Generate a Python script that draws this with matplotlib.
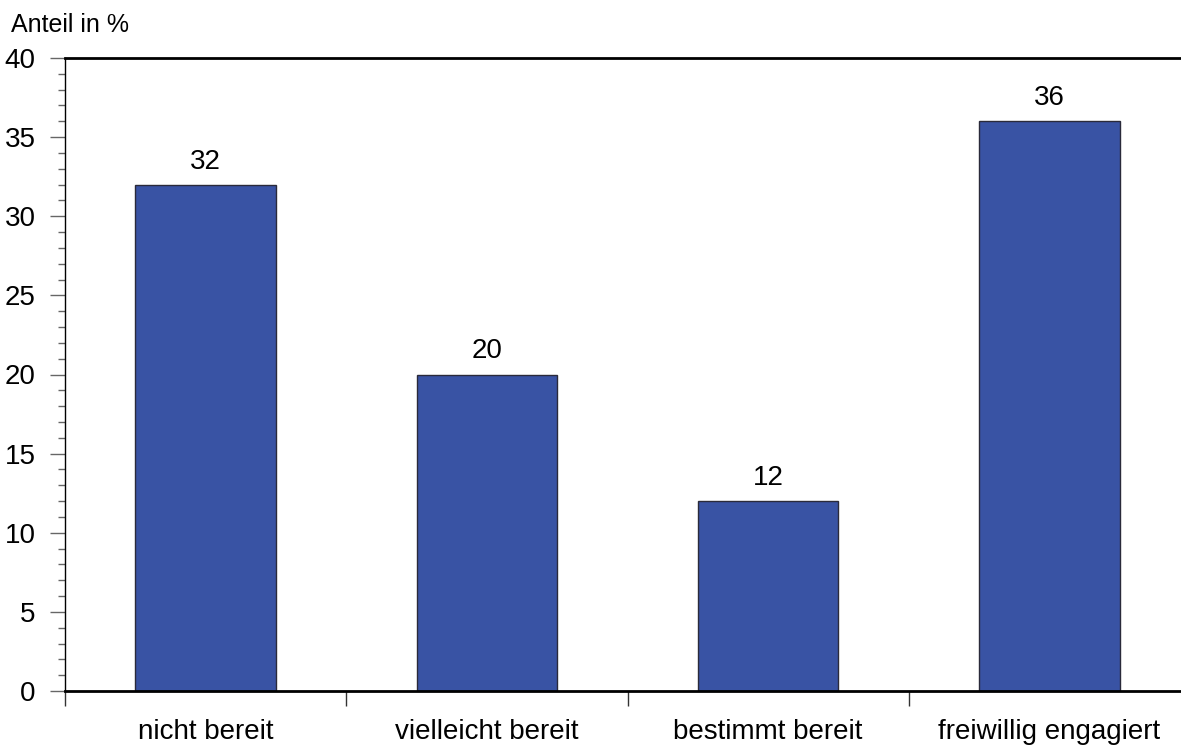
import matplotlib
matplotlib.use("Agg")
import matplotlib.pyplot as plt
from matplotlib.ticker import MultipleLocator

categories = ["nicht bereit", "vielleicht bereit", "bestimmt bereit", "freiwillig engagiert"]
values = [32, 20, 12, 36]
yticks = [0, 5, 10, 15, 20, 25, 30, 35, 40]

plt.rcParams['font.family'] = ['Liberation Sans', 'DejaVu Sans']
FS = 20
W, H = 1181, 745
fig = plt.figure(figsize=(W/100, H/100), dpi=100)
left, right, bottom, top = 65, 1190, 691, 58
ax = fig.add_axes([left/W, 1 - bottom/H, (right-left)/W, (bottom-top)/H])

x = list(range(len(categories)))
bars = ax.bar(x, values, width=0.5, color='#3953A4', edgecolor='#2a2a3a', linewidth=1.0, zorder=2)
for xi, v in zip(x, values):
    ax.annotate(str(v), (xi, v), xytext=(0, 10), textcoords='offset pixels',
                ha='center', va='bottom', fontsize=FS)

ax.set_xlim(-0.5, 3.5)
ax.set_ylim(0, 40)
ax.set_yticks(yticks)
ax.yaxis.set_minor_locator(MultipleLocator(1))
ax.tick_params(axis='y', which='major', length=11, width=1, color='#666666', labelsize=FS, pad=10)
ax.tick_params(axis='y', which='minor', length=5, width=1, color='#666666')

ax.set_xticks([-0.5, 0.5, 1.5, 2.5])
ax.set_xticklabels([])
ax.set_xticks(x, minor=True)
ax.set_xticklabels(categories, minor=True)
ax.tick_params(axis='x', which='major', length=11, width=1, color='#333333')
ax.tick_params(axis='x', which='minor', length=0, labelsize=FS, pad=20.5)

ax.spines['right'].set_visible(False)
ax.spines['top'].set_linewidth(2)
ax.spines['bottom'].set_linewidth(2)
ax.spines['left'].set_linewidth(1)
ax.spines['left'].set_color('#000000')

fig.text(11/W, 1 - 32/H, "Anteil in %", fontsize=18, ha='left', va='baseline')

fig.savefig("out.png", dpi=100)
